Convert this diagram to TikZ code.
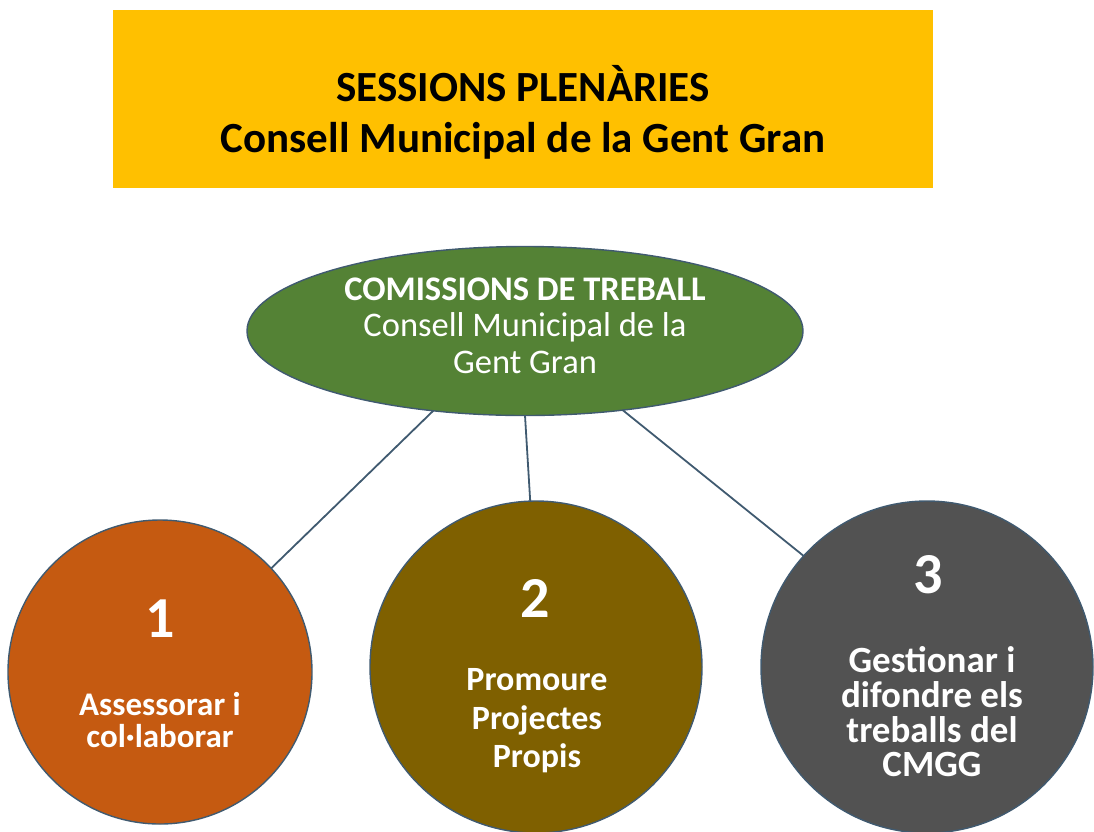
\documentclass[tikz,border=0pt]{standalone}
\usepackage{fontspec}
\setmainfont{Carlito}
\usetikzlibrary{shapes.geometric}
\definecolor{gold}{RGB}{255,192,0}
\definecolor{leaf}{RGB}{84,130,53}
\definecolor{rust}{RGB}{197,90,17}
\definecolor{olive}{RGB}{127,96,0}
\definecolor{slate}{RGB}{82,82,82}
\definecolor{edgeblue}{RGB}{64,90,112}

\begin{document}
\begin{tikzpicture}[x=1pt,y=-1pt,line width=1.8pt]
  \tikzset{every node/.style={inner sep=0pt,outer sep=0pt}}
  \tikzset{round/.style={circle,draw=edgeblue,line width=1.4pt,minimum size=332pt}}
  \tikzset{num/.style={anchor=base,text=white,font=\fontsize{58}{60}\selectfont\bfseries}}
  \tikzset{label/.style={align=center,text=white}}
  \useasboundingbox (0,0) rectangle (1094,831);

  % plenary box
  \node[fill=gold,minimum width=820pt,minimum height=178pt] (P) at (523,99) {};
  \node[align=center,font=\fontsize{43}{51}\selectfont\bfseries] (Ptxt) at (523,112)
    {SESSIONS PLENÀRIES\\Consell Municipal de la Gent Gran};

  % working groups
  \node[ellipse,fill=leaf,draw=edgeblue,line width=1.4pt,minimum width=556pt,minimum height=169pt,
        text=white,align=center,text depth=11pt,font=\fontsize{34.5}{36.5}\selectfont] (C) at (525,331)
    {\textbf{COMISSIONS DE TREBALL}\\Consell Municipal de la\\Gent Gran};

  \node[round,fill=rust,minimum size=304pt]  (A) at (160,672) {};
  \node[round,fill=olive] (B) at (536,667) {};
  \node[round,fill=slate] (D) at (927,667) {};

  \draw[edgeblue] (C.221.3) -- (A.43.7);
  \draw[edgeblue] (C.south) -- (B.92);
  \draw[edgeblue] (C.321.3) -- (D.138.8);

  \node[num] (n1) at (160,637) {1};
  \node[num] (n2) at (535,617) {2};
  \node[num] (n3) at (928,593) {3};

  \node[label,font=\fontsize{33}{32}\selectfont\bfseries] (t1) at (160,720)
    {Assessorar i\\col·laborar};
  \node[label,font=\fontsize{34}{38.5}\selectfont\bfseries] (t2) at (537,721)
    {Promoure\\Projectes\\Propis};
  \node[label,font=\fontsize{37}{34.7}\selectfont\bfseries] (t3) at (932,712)
    {Gestionar i\\difondre els\\treballs del\\CMGG};
\end{tikzpicture}
\end{document}
